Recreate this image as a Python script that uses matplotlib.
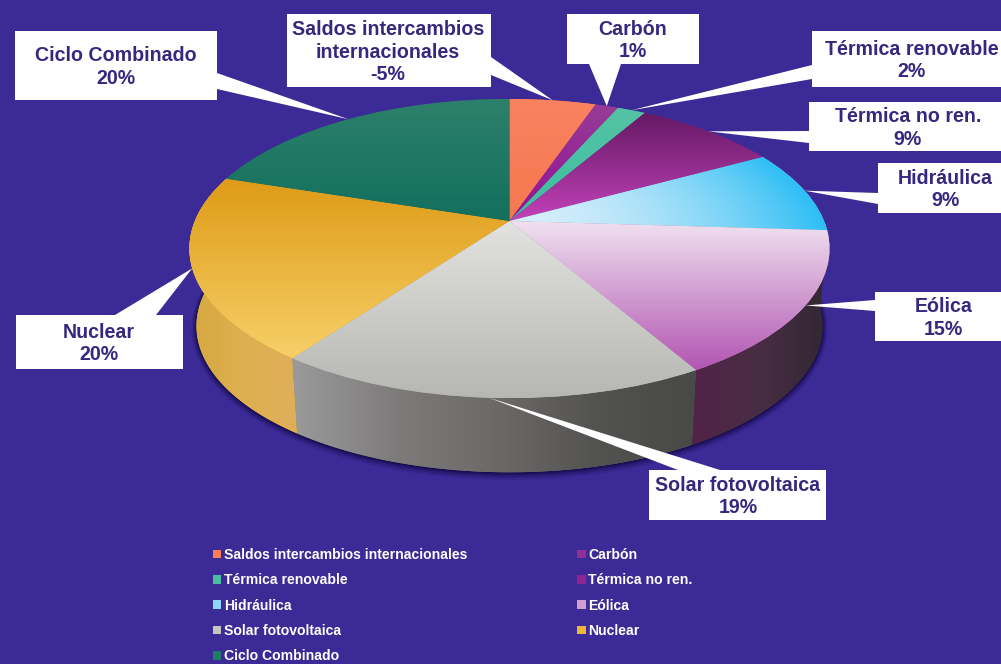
import numpy as np
import matplotlib
matplotlib.use("Agg")
import matplotlib.pyplot as plt
from matplotlib.patches import Polygon, Rectangle, Ellipse
from matplotlib.transforms import Transform

# ---------- data ----------
categories = ["Saldos intercambios internacionales", "Carbón", "Térmica renovable",
              "Térmica no ren.", "Hidráulica", "Eólica", "Solar fotovoltaica",
              "Nuclear", "Ciclo Combinado"]
callout_names = ["Saldos intercambios\ninternacionales", "Carbón", "Térmica renovable",
                 "Térmica no ren.", "Hidráulica", "Eólica", "Solar fotovoltaica",
                 "Nuclear", "Ciclo Combinado"]
shares = [-5, 1, 2, 9, 9, 15, 19, 20, 20]           # as printed on the call-outs
slice_sizes = [5.2, 1.4, 1.7, 8.7, 9.0, 15.7, 18.3, 20.0, 20.0]

# ---------- styles ----------
BG = (60/255, 42/255, 150/255)
INK = "#37287f"
base_colors = ["#f97e58", "#92309a", "#48bd9f", "#8f2590", "#8fd8f5",
               "#cf9fd0", "#c4c4c2", "#edb63a", "#217a66"]
# (mode, first colour, last colour)
top_grad = [("y", (250,130,95), (245,120,80)),
            ("y", (150,60,150), (150,15,150)),
            ("y", (85,195,165), (60,190,160)),
            ("y", (100,25,100), (195,65,185)),
            ("r", (215,238,250), (45,190,245)),
            ("y", (240,226,240), (178,85,178)),
            ("y", (226,226,224), (182,182,178)),
            ("y", (222,155,22), (247,208,105)),
            ("y", (45,128,108), (18,112,92))]
wall_stops = {5: ([697, 760, 825], [(82,35,72), (72,45,68), (50,40,50)]),
              6: ([291, 400, 500, 600, 697], [(155,155,155), (125,122,122), (108,104,104), (82,82,80), (72,74,70)]),
              7: ([190, 240, 298], [(212,168,62), (222,175,80), (222,175,90)])}
boxes = [(287,14,491,87), (567,14,699,64), (812,31,1001,87), (809,102,1001,151), (878,163,1001,213),
         (875,292,1001,341), (649,470,826,520), (16,315,183,369), (15,31,217,100)]
attach = [((491,57),(491,75)), ((589,64),(621,64)), ((812,65),(812,79)), ((809,131),(809,143)),
          ((878,193),(878,204)), ((875,300),(875,311)), ((678,470),(720,470)),
          ((115,315),(156,315)), ((217,73),(217,89))]
text_x = [388, 633, 912, 908, 945, 943.5, 738, 98.5, 116]

W, H = 1001, 664
CX, APEX_Y, R, K, A = 509.5, 221.0, 314.6, 0.184, -103.8
ECY, ERY, S, ECY2 = 248.5, 149.5, 0.978, 326.0


class PieProjection(Transform):
    """Perspective view of the unit pie, in pixel-sized data units."""
    input_dims = output_dims = 2
    is_separable = False
    has_inverse = False

    def transform_non_affine(self, xy):
        xy = np.asarray(xy, float)
        den = 1 + K * xy[:, 1]
        return np.column_stack((CX + R * xy[:, 0] / den, (A * xy[:, 1] + APEX_Y) / den))


proj = PieProjection()


def lower(P):
    return np.column_stack((CX + S * (P[:, 0] - CX), ECY2 + S * (P[:, 1] - ECY)))


plt.rcParams["font.family"] = ["Liberation Sans", "DejaVu Sans"]
fig = plt.figure(figsize=(W/100, H/100), dpi=100, facecolor=BG)
ax = fig.add_axes([0, 0, 1, 1])

wedges, _ = ax.pie(slice_sizes, colors=base_colors, startangle=90, counterclock=False,
                   radius=1, center=(0, 0), wedgeprops=dict(linewidth=0))
for w in wedges:
    w.set_transform(proj + ax.transData)
    w.set_zorder(5)

YY, XX = np.mgrid[0:H, 0:W] + 0.5
uy = (YY - APEX_Y) / (A - K * YY)
ux = (XX - CX) * (1 + K * uy) / R
RAD = np.clip(np.hypot(ux, uy), 0, 1)
EXTENT = (0, W, H, 0)

# soft shadow below the wall
for i, al in zip((5, 3.5, 2, 1), (0.15, 0.25, 0.35, 0.5)):
    ax.add_patch(Ellipse((CX, ECY2 + 0.5*i), 2*S*320 + 2*i, 2*S*ERY + 2*i, fc=(0.06, 0.03, 0.25),
                         ec="none", alpha=al, zorder=1))

# side wall, built from the wedge angles
for idx, (xs, cols) in wall_stops.items():
    w = wedges[idx]
    th = np.radians(np.linspace(w.theta1, w.theta2, 60))
    top = proj.transform(np.column_stack((np.cos(th), np.sin(th))))
    poly = Polygon(np.vstack((top, lower(top)[::-1])), closed=True,
                   fc=tuple(c/255 for c in cols[1]), ec="none", zorder=2)
    ax.add_patch(poly)
    cols = np.array(cols, float)
    img = np.dstack([np.interp(XX, xs, cols[:, c]) for c in range(3)]) / 255
    im = ax.imshow(img, extent=EXTENT, aspect="auto", zorder=3)
    im.set_clip_path(poly)

# top face gradients
for w, (mode, c0, c1) in zip(wedges, top_grad):
    c0, c1 = np.array(c0, float), np.array(c1, float)
    if mode == "y":
        v = proj.transform(w.get_path().vertices)
        t = np.clip((YY - v[:, 1].min()) / (v[:, 1].max() - v[:, 1].min()), 0, 1)
    else:
        t = RAD ** 1.7
    img = (c0 + (c1 - c0) * t[..., None]) / 255
    im = ax.imshow(img, extent=EXTENT, aspect="auto", zorder=6)
    im.set_clip_path(w)

# call-outs
for w, name, val, (x0, y0, x1, y1), (p, q), tx in zip(wedges, callout_names, shares, boxes, attach, text_x):
    mid = np.radians((w.theta1 + w.theta2) / 2)
    tip = proj.transform(np.array([[np.cos(mid), np.sin(mid)]]))[0]
    ax.add_patch(Polygon([tip, p, q], closed=True, fc="white", ec="none", zorder=8))
    ax.add_patch(Rectangle((x0, y0), x1 - x0, y1 - y0, fc="white", ec="none", zorder=9))
    ax.text(tx, (y0 + y1) / 2 + 1.5, f"{name}\n{val}%", ha="center", va="center",
            ma="center", color=INK, fontsize=14.1, fontweight="bold", linespacing=1.24, zorder=10)

# legend, read row by row in the picture
order = [0, 2, 4, 6, 8, 1, 3, 5, 7]
leg = ax.legend([wedges[i] for i in order], [categories[i] for i in order], ncols=2, frameon=False,
                loc="upper left", bbox_to_anchor=(213/W, 1 - 548/H), bbox_transform=ax.transAxes,
                prop=dict(size=10.1, weight="bold"), labelcolor="white", borderpad=0, borderaxespad=0,
                handlelength=0.58, handleheight=0.58, handletextpad=0.2, labelspacing=0.81,
                columnspacing=7.85)

ax.set_aspect("auto")
ax.set_xlim(0, W)
ax.set_ylim(H, 0)
ax.set_axis_off()
fig.savefig("out.png", dpi=100, facecolor=BG)
